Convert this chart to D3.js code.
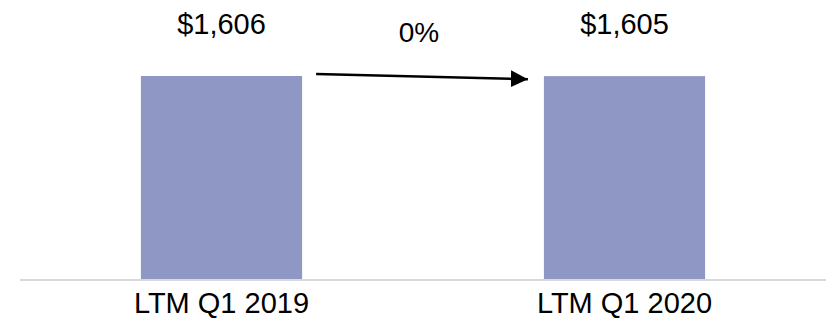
<!DOCTYPE html>
<html>
<head>
<meta charset="utf-8">
<script src="https://cdn.jsdelivr.net/npm/d3@7"></script>
<style>
  body { margin: 0; background: #fff; }
  text { font-family: Arial, "Liberation Sans", sans-serif; fill: #000; }
</style>
</head>
<body>
<div id="chart"></div>
<script>
// data
const periods = ["LTM Q1 2019", "LTM Q1 2020"];
const revenue = [1606, 1605];
const valueLabels = ["$1,606", "$1,605"];
const changeLabel = "0%";

const width = 832, height = 332;
const baseY = 280, topY = 76;

const svg = d3.select("#chart")
    .append("svg")
    .attr("width", width)
    .attr("height", height);

// arrow marker
svg.append("defs").append("marker")
    .attr("id", "arrowhead")
    .attr("viewBox", "0 0 10 10")
    .attr("refX", 10)
    .attr("refY", 5)
    .attr("markerWidth", 17)
    .attr("markerHeight", 17)
    .attr("markerUnits", "userSpaceOnUse")
    .attr("orient", "auto")
    .append("path")
    .attr("d", "M0,0 L10,5 L0,10 Z")
    .attr("fill", "#000");

const x = d3.scaleBand()
    .domain(periods)
    .range([20, 826])
    .paddingInner(0.6)
    .paddingOuter(0.3);

const y = d3.scaleLinear()
    .domain([0, d3.max(revenue)])
    .range([baseY, topY]);

const rows = periods.map((p, i) => ({period: p, value: revenue[i], label: valueLabels[i]}));

// bars
svg.selectAll(".bar")
    .data(rows)
    .enter().append("rect")
    .attr("class", "bar")
    .attr("x", d => x(d.period))
    .attr("width", x.bandwidth())
    .attr("y", d => y(d.value))
    .attr("height", d => baseY - y(d.value))
    .attr("fill", "#8f98c4");

// baseline
svg.append("line")
    .attr("x1", 20)
    .attr("x2", 826)
    .attr("y1", baseY)
    .attr("y2", baseY)
    .attr("stroke", "#d9d9d9")
    .attr("stroke-width", 2);

// value labels above bars
svg.selectAll(".val")
    .data(rows)
    .enter().append("text")
    .attr("class", "val")
    .attr("x", d => x(d.period) + x.bandwidth() / 2)
    .attr("y", 34)
    .attr("text-anchor", "middle")
    .style("font-size", "29px")
    .text(d => d.label);

// category labels
svg.selectAll(".cat")
    .data(rows)
    .enter().append("text")
    .attr("class", "cat")
    .attr("x", d => x(d.period) + x.bandwidth() / 2)
    .attr("y", 313)
    .attr("text-anchor", "middle")
    .style("font-size", "29px")
    .text(d => d.period);

// growth arrow between bars
const x0 = x(periods[0]) + x.bandwidth() + 14;
const x1 = x(periods[1]) - 16;
svg.append("line")
    .attr("x1", x0)
    .attr("y1", y(revenue[0]) - 2)
    .attr("x2", x1)
    .attr("y2", y(revenue[1]) + 3)
    .attr("stroke", "#000")
    .attr("stroke-width", 2.5)
    .attr("marker-end", "url(#arrowhead)");

svg.append("text")
    .attr("x", (x0 + x1) / 2 - 3)
    .attr("y", 42)
    .attr("text-anchor", "middle")
    .style("font-size", "28px")
    .text(changeLabel);
</script>
</body>
</html>
